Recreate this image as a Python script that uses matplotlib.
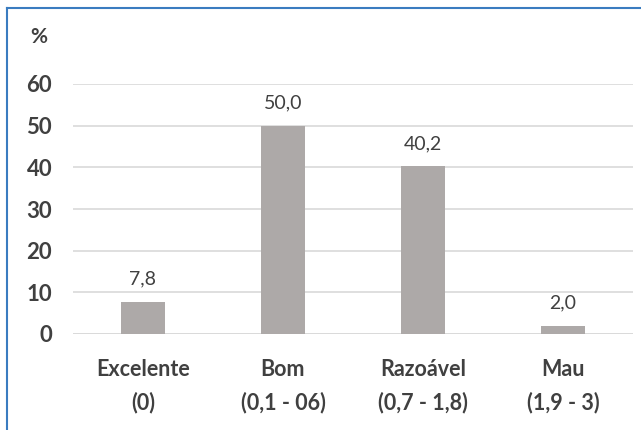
import matplotlib
matplotlib.use("Agg")
import matplotlib.pyplot as plt
from matplotlib.lines import Line2D

# data
categories = ["Excelente\n(0)", "Bom\n(0,1 - 06)", "Razoável\n(0,7 - 1,8)", "Mau\n(1,9 - 3)"]
values = [7.8, 50.0, 40.2, 2.0]
value_labels = ["7,8", "50,0", "40,2", "2,0"]
yticks = [0, 10, 20, 30, 40, 50, 60]

TXT = "#404040"
BAR = "#ADA9A8"
GRID = "#D9D9D9"
BORDER = "#3A7CC0"

plt.rcParams["font.family"] = ["Lato", "DejaVu Sans"]

W, H = 641, 430
fig = plt.figure(figsize=(W / 100, H / 100), dpi=100)
# axes box in pixels: x 73..633, y 84(=60)..334(=0)
ax = fig.add_axes([73 / W, 1 - 334 / H, (633 - 73) / W, (334 - 84) / H])

x = list(range(len(categories)))
ax.bar(x, values, width=0.31, color=BAR, zorder=3)
for xi, v, lab in zip(x, values, value_labels):
    ax.annotate(lab, (xi, v), xytext=(0, 10), textcoords="offset points",
                ha="center", va="bottom", fontsize=14, color=TXT)

ax.set_xlim(-0.5, 3.5)
ax.set_ylim(0, 60)
ax.set_yticks(yticks)
ax.set_yticklabels([str(t) for t in yticks], fontsize=16, fontweight="bold", color=TXT)
ax.set_xticks(x)
ax.set_xticklabels(categories, fontsize=15.5, fontweight="bold", color=TXT, linespacing=1.65)
ax.tick_params(axis="both", length=0)
ax.tick_params(axis="y", pad=15)
ax.tick_params(axis="x", pad=18)
ax.yaxis.grid(True, color=GRID, linewidth=1.2, zorder=0)
ax.set_axisbelow(True)
for s in ax.spines.values():
    s.set_visible(False)
ax.axhline(0, color=GRID, linewidth=1.2, zorder=1)

fig.text(38.5 / W, 1 - 37 / H, "%", ha="center", va="center", fontsize=15,
         fontweight="bold", color=TXT)

# blue frame at top and left, as in the reference crop
fig.add_artist(Line2D([7 / W, 1], [1 - 8 / H, 1 - 8 / H], color=BORDER, linewidth=1.5))
fig.add_artist(Line2D([7 / W, 7 / W], [0, 1 - 8 / H], color=BORDER, linewidth=1.5))

fig.savefig("out.png", dpi=100)
